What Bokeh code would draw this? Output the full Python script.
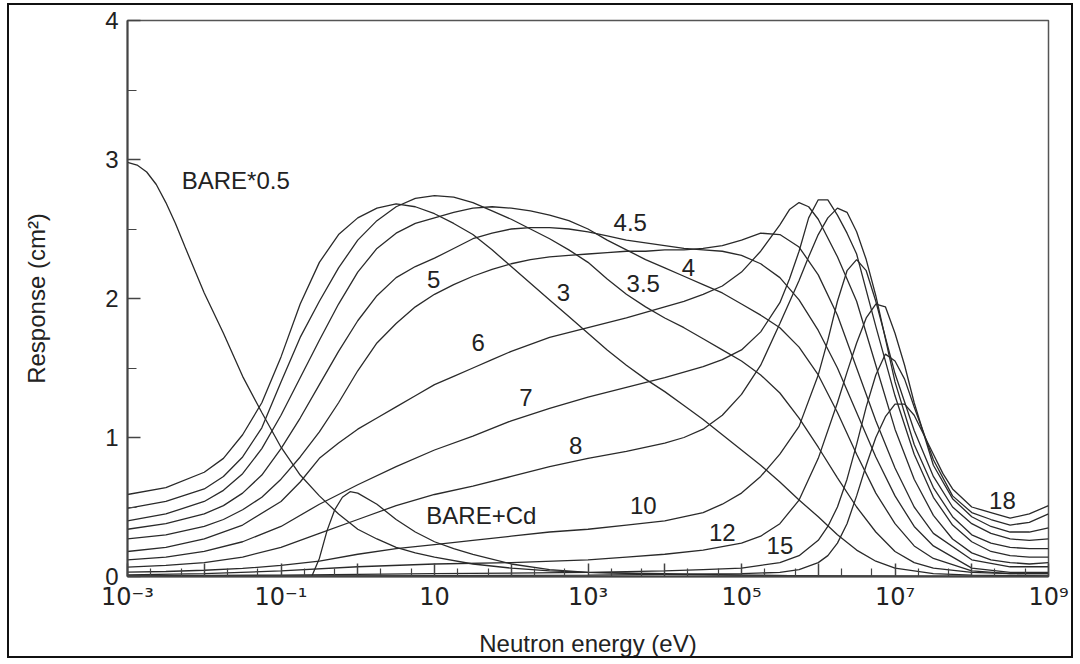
from bokeh.plotting import figure
from bokeh.models import FixedTicker, Range1d
from bokeh.core.properties import value
from bokeh.embed import file_html
from bokeh.resources import INLINE

FONT = "Liberation Sans"

# ---- curves: log10(energy / eV) and response (cm^2) ----
bare_logE = [-3, -2.875, -2.75, -2.625, -2.5, -2.375, -2.25, -2, -1.75, -1.5, -1.25, -1, -0.75, -0.5, -0.25, 0, 0.25, 0.5, 0.75, 1, 1.5, 2, 2.5, 3, 4, 5, 6, 7, 8, 9]
bare_R = [2.98, 2.96, 2.91, 2.82, 2.69, 2.54, 2.37, 2.04, 1.75, 1.44, 1.18, 0.93, 0.73, 0.58, 0.45, 0.34, 0.27, 0.21, 0.17, 0.14, 0.09, 0.06, 0.04, 0.03, 0.015, 0.01, 0.005, 0.002, 0.0, 0.0]

cd_logE = [-0.6, -0.5, -0.4, -0.3, -0.2, -0.1, 0, 0.25, 0.5, 0.75, 1, 1.25, 1.5, 2, 2.5, 3, 4, 5, 6, 7, 9]
cd_R = [0.0, 0.13, 0.33, 0.48, 0.57, 0.61, 0.60, 0.52, 0.41, 0.32, 0.25, 0.20, 0.16, 0.09, 0.05, 0.03, 0.02, 0.01, 0.005, 0.0, 0.0]

s3_logE = [-3, -2.5, -2, -1.75, -1.5, -1.25, -1, -0.75, -0.5, -0.25, 0, 0.25, 0.5, 0.75, 1, 1.25, 1.5, 1.75, 2, 2.25, 2.5, 2.75, 3, 3.25, 3.5, 3.75, 4, 4.25, 4.5, 4.75, 5, 5.25, 5.5, 5.75, 6, 6.25, 6.5, 6.75, 7, 7.5, 8, 9]
s3_R = [0.59, 0.64, 0.75, 0.85, 1.02, 1.25, 1.58, 1.96, 2.26, 2.46, 2.58, 2.65, 2.68, 2.66, 2.61, 2.54, 2.46, 2.35, 2.23, 2.11, 1.99, 1.87, 1.75, 1.63, 1.52, 1.42, 1.33, 1.23, 1.13, 1.02, 0.91, 0.80, 0.68, 0.55, 0.43, 0.30, 0.19, 0.11, 0.06, 0.02, 0.01, 0.005]

s35_logE = [-3, -2.5, -2, -1.75, -1.5, -1.25, -1, -0.75, -0.5, -0.25, 0, 0.25, 0.5, 0.75, 1, 1.25, 1.5, 1.75, 2, 2.25, 2.5, 2.75, 3, 3.25, 3.5, 3.75, 4, 4.25, 4.5, 4.75, 5, 5.25, 5.5, 5.75, 6, 6.25, 6.5, 6.75, 7, 7.25, 7.5, 8, 8.5, 9]
s35_R = [0.49, 0.54, 0.63, 0.72, 0.86, 1.07, 1.40, 1.72, 1.98, 2.22, 2.42, 2.56, 2.66, 2.72, 2.74, 2.73, 2.69, 2.63, 2.57, 2.50, 2.43, 2.35, 2.26, 2.14, 2.03, 1.94, 1.86, 1.79, 1.71, 1.63, 1.55, 1.45, 1.32, 1.14, 0.93, 0.71, 0.50, 0.32, 0.18, 0.10, 0.06, 0.03, 0.02, 0.02]

s4_logE = s35_logE
s4_R = [0.40, 0.45, 0.54, 0.62, 0.74, 0.92, 1.16, 1.43, 1.70, 1.96, 2.19, 2.36, 2.47, 2.54, 2.58, 2.62, 2.65, 2.66, 2.65, 2.63, 2.60, 2.56, 2.50, 2.42, 2.35, 2.28, 2.22, 2.16, 2.10, 2.04, 1.96, 1.88, 1.79, 1.65, 1.45, 1.18, 0.88, 0.60, 0.38, 0.22, 0.13, 0.04, 0.02, 0.02]

s45_logE = s35_logE
s45_R = [0.34, 0.38, 0.45, 0.51, 0.60, 0.73, 0.92, 1.14, 1.38, 1.62, 1.84, 2.02, 2.15, 2.23, 2.29, 2.36, 2.43, 2.47, 2.50, 2.51, 2.51, 2.50, 2.48, 2.45, 2.42, 2.40, 2.38, 2.36, 2.35, 2.34, 2.31, 2.25, 2.15, 1.99, 1.77, 1.50, 1.18, 0.86, 0.58, 0.36, 0.22, 0.06, 0.03, 0.03]

s5_logE = s35_logE
s5_R = [0.27, 0.30, 0.36, 0.41, 0.48, 0.57, 0.70, 0.86, 1.04, 1.25, 1.48, 1.68, 1.82, 1.94, 2.03, 2.10, 2.16, 2.21, 2.25, 2.28, 2.30, 2.31, 2.32, 2.33, 2.34, 2.34, 2.35, 2.35, 2.36, 2.38, 2.42, 2.47, 2.46, 2.37, 2.17, 1.88, 1.50, 1.12, 0.78, 0.50, 0.31, 0.12, 0.07, 0.07]

s6_logE = [-3, -2.5, -2, -1.5, -1, -0.75, -0.5, -0.25, 0, 0.25, 0.5, 0.75, 1, 1.25, 1.5, 1.75, 2, 2.5, 3, 3.5, 4, 4.25, 4.5, 4.75, 5, 5.25, 5.5, 5.625, 5.75, 5.875, 6, 6.25, 6.5, 6.75, 7, 7.25, 7.5, 7.75, 8, 8.25, 8.5, 8.75, 9]
s6_R = [0.18, 0.21, 0.27, 0.37, 0.54, 0.68, 0.85, 0.96, 1.06, 1.14, 1.22, 1.30, 1.38, 1.44, 1.50, 1.56, 1.62, 1.72, 1.79, 1.86, 1.94, 1.98, 2.03, 2.09, 2.19, 2.34, 2.53, 2.64, 2.69, 2.66, 2.57, 2.30, 1.98, 1.52, 1.06, 0.70, 0.44, 0.27, 0.17, 0.12, 0.10, 0.09, 0.10]

s7_logE = [-3, -2.5, -2, -1.5, -1, -0.5, 0, 0.5, 1, 1.5, 2, 2.5, 3, 3.5, 4, 4.5, 4.75, 5, 5.25, 5.5, 5.625, 5.75, 5.875, 6, 6.125, 6.25, 6.375, 6.5, 6.75, 7, 7.25, 7.5, 7.75, 8, 8.25, 8.5, 8.75, 9]
s7_R = [0.12, 0.14, 0.18, 0.25, 0.36, 0.52, 0.66, 0.79, 0.91, 1.01, 1.12, 1.21, 1.29, 1.36, 1.43, 1.51, 1.56, 1.63, 1.76, 1.97, 2.14, 2.34, 2.58, 2.71, 2.71, 2.60, 2.47, 2.32, 1.80, 1.30, 0.88, 0.57, 0.37, 0.25, 0.18, 0.15, 0.14, 0.14]

s8_logE = [-3, -2.5, -2, -1.5, -1, -0.5, 0, 0.5, 1, 1.5, 2, 2.5, 3, 3.5, 4, 4.25, 4.5, 4.75, 5, 5.25, 5.5, 5.75, 5.875, 6, 6.125, 6.25, 6.375, 6.5, 6.625, 6.75, 7, 7.25, 7.5, 7.75, 8, 8.25, 8.5, 8.75, 9]
s8_R = [0.067, 0.08, 0.10, 0.14, 0.21, 0.31, 0.41, 0.51, 0.59, 0.65, 0.72, 0.79, 0.85, 0.90, 0.96, 1.00, 1.06, 1.16, 1.31, 1.52, 1.82, 2.13, 2.30, 2.46, 2.58, 2.65, 2.62, 2.48, 2.28, 2.02, 1.40, 0.95, 0.64, 0.43, 0.30, 0.24, 0.21, 0.20, 0.20]

s10_logE = [-3, -2.5, -2, -1.5, -1, -0.5, 0, 0.5, 1, 1.5, 2, 2.5, 3, 3.5, 4, 4.5, 4.75, 5, 5.25, 5.5, 5.75, 6, 6.125, 6.25, 6.375, 6.5, 6.625, 6.75, 6.875, 7, 7.25, 7.5, 7.75, 8, 8.25, 8.5, 8.75, 9]
s10_R = [0.031, 0.036, 0.045, 0.058, 0.08, 0.11, 0.16, 0.20, 0.23, 0.26, 0.29, 0.32, 0.34, 0.37, 0.40, 0.46, 0.52, 0.60, 0.72, 0.88, 1.08, 1.45, 1.70, 1.98, 2.20, 2.28, 2.20, 1.98, 1.72, 1.46, 1.05, 0.72, 0.50, 0.38, 0.31, 0.27, 0.26, 0.27]

s12_logE = [-3, -2, -1, 0, 1, 2, 3, 3.5, 4, 4.5, 5, 5.25, 5.5, 5.75, 6, 6.25, 6.375, 6.5, 6.625, 6.75, 6.875, 7, 7.125, 7.25, 7.5, 7.75, 8, 8.25, 8.5, 8.75, 9]
s12_R = [0.012, 0.02, 0.04, 0.07, 0.09, 0.10, 0.12, 0.14, 0.16, 0.19, 0.24, 0.29, 0.38, 0.55, 0.85, 1.25, 1.47, 1.68, 1.86, 1.96, 1.94, 1.75, 1.52, 1.25, 0.80, 0.56, 0.43, 0.36, 0.32, 0.32, 0.35]

s15_logE = [-3, -1, 1, 3, 4, 4.5, 5, 5.25, 5.5, 5.75, 6, 6.125, 6.25, 6.375, 6.5, 6.625, 6.75, 6.875, 7, 7.125, 7.25, 7.375, 7.5, 7.75, 8, 8.25, 8.5, 8.75, 9]
s15_R = [0.004, 0.01, 0.02, 0.03, 0.04, 0.05, 0.06, 0.08, 0.10, 0.15, 0.26, 0.36, 0.50, 0.70, 0.95, 1.22, 1.45, 1.60, 1.55, 1.42, 1.22, 1.03, 0.84, 0.58, 0.46, 0.41, 0.37, 0.39, 0.45]

s18_logE = [-3, 0, 3, 5, 5.5, 5.75, 6, 6.125, 6.25, 6.375, 6.5, 6.625, 6.75, 6.875, 7, 7.125, 7.25, 7.375, 7.5, 7.625, 7.75, 8, 8.25, 8.5, 8.75, 9]
s18_R = [0.002, 0.005, 0.01, 0.02, 0.03, 0.05, 0.10, 0.15, 0.24, 0.38, 0.58, 0.80, 1.00, 1.15, 1.24, 1.24, 1.16, 1.02, 0.88, 0.74, 0.63, 0.50, 0.46, 0.42, 0.45, 0.51]

# ---- curve labels ----
label_text = ["BARE*0.5", "5", "3", "3.5", "4.5", "4", "6", "7", "8", "BARE+Cd", "10", "12", "15", "18"]
label_logE = [-1.59, 0.99, 2.68, 3.72, 3.55, 4.31, 1.57, 2.19, 2.84, 1.61, 3.72, 4.75, 5.50, 8.40]
label_R = [2.85, 2.14, 2.04, 2.11, 2.55, 2.22, 1.68, 1.29, 0.94, 0.44, 0.51, 0.32, 0.22, 0.55]

# ---- axes ----
x_major_ticks = [10.0 ** k for k in range(-3, 10)]
x_minor_ticks = [m * 10.0 ** k for k in range(-3, 9) for m in (2, 5)]
x_tick_labels = ["10\u207b\u00b3", "", "10\u207b\u00b9", "", "10", "", "10\u00b3", "",
                 "10\u2075", "", "10\u2077", "", "10\u2079"]
x_title = "Neutron energy (eV)"
y_title = "Response (cm\u00b2)"
y_major_ticks = [0, 1, 2, 3, 4]
y_minor_ticks = [0.5, 1.5, 2.5, 3.5]

series = [
    (bare_logE, bare_R), (cd_logE, cd_R), (s3_logE, s3_R), (s35_logE, s35_R),
    (s4_logE, s4_R), (s45_logE, s45_R), (s5_logE, s5_R), (s6_logE, s6_R),
    (s7_logE, s7_R), (s8_logE, s8_R), (s10_logE, s10_R), (s12_logE, s12_R),
    (s15_logE, s15_R), (s18_logE, s18_R),
]

TXT = "#222"
p = figure(width=1066, height=655, x_axis_type="log",
           x_range=Range1d(1e-3, 1e9), y_range=Range1d(0, 4),
           output_backend="svg", toolbar_location=None,
           min_border_left=118, min_border_right=27,
           min_border_top=15, min_border_bottom=84)
p.styles = {"border": "2px solid #111", "margin-left": "7px", "margin-top": "3px"}
p.background_fill_color = "white"
p.border_fill_color = "white"
p.outline_line_color = "#555"
p.outline_line_width = 1.5
p.grid.visible = False

for lx, ry in series:
    p.line([10.0 ** v for v in lx], ry, line_color="#2a2a2a", line_width=1.3)

p.text(x=[10.0 ** v for v in label_logE], y=label_R, text=label_text,
       text_font=value(FONT), text_font_size="24px", text_color=TXT,
       text_align="center", text_baseline="middle")

xa = p.xaxis[0]
xa.ticker = FixedTicker(ticks=x_major_ticks, minor_ticks=x_minor_ticks)
xa.major_label_overrides = {t: s for t, s in zip(x_major_ticks, x_tick_labels)}
xa.axis_label = x_title

ya = p.yaxis[0]
ya.ticker = FixedTicker(ticks=y_major_ticks, minor_ticks=y_minor_ticks)
ya.axis_label = y_title

for ax in (xa, ya):
    ax.axis_line_color = "#444"
    ax.axis_line_width = 2
    ax.major_tick_line_color = "#444"
    ax.minor_tick_line_color = "#444"
    ax.major_tick_line_width = 1.5
    ax.minor_tick_line_width = 1.2
    ax.major_tick_out = 0
    ax.minor_tick_out = 0
    ax.major_tick_in = 13
    ax.minor_tick_in = 8
    ax.major_label_text_font = FONT
    ax.major_label_text_font_size = "24px"
    ax.major_label_text_color = TXT
    ax.axis_label_text_font = FONT
    ax.axis_label_text_font_size = "24px"
    ax.axis_label_text_font_style = "normal"
    ax.axis_label_text_color = TXT

xa.major_label_text_font = "DejaVu Sans"
xa.major_label_text_font_size = "24px"
ya.minor_tick_in = 9
xa.major_label_standoff = 6
ya.major_label_standoff = 9
xa.axis_label_standoff = 16
ya.axis_label_standoff = 52

open("out.html", "w").write(file_html(p, INLINE))
